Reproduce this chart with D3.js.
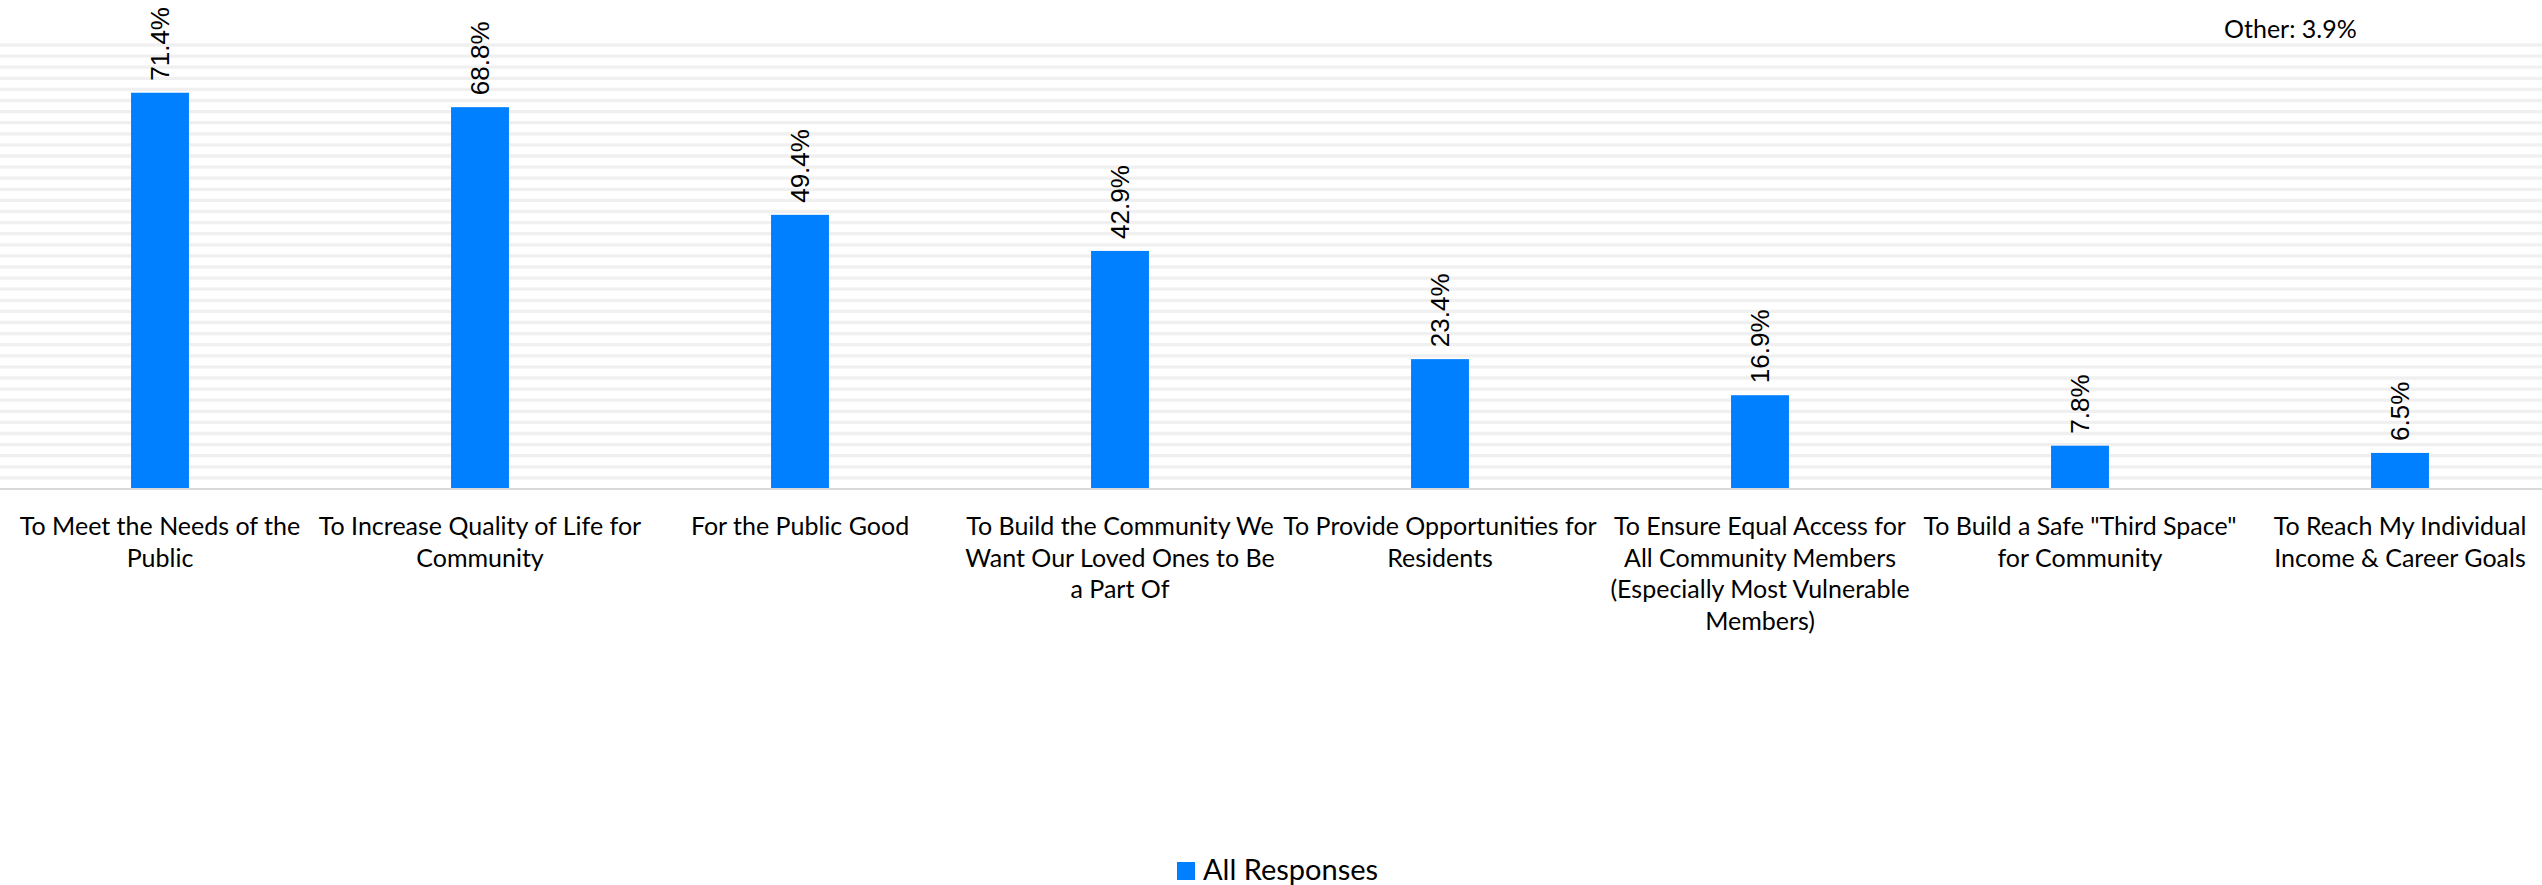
<!DOCTYPE html>
<html>
<head>
<meta charset="utf-8">
<script src="https://cdn.jsdelivr.net/npm/d3@7"></script>
<style>
  html, body { margin: 0; padding: 0; background: #ffffff; }
  svg { display: block; }
</style>
</head>
<body>
<svg id="chart" width="2542" height="885"></svg>
<script>
// ---- data ----
const categories = [
  "To Meet the Needs of the\nPublic",
  "To Increase Quality of Life for\nCommunity",
  "For the Public Good",
  "To Build the Community We\nWant Our Loved Ones to Be\na Part Of",
  "To Provide Opportunities for\nResidents",
  "To Ensure Equal Access for\nAll Community Members\n(Especially Most Vulnerable\nMembers)",
  "To Build a Safe \"Third Space\"\nfor Community",
  "To Reach My Individual\nIncome & Career Goals"
];
const values = [71.4, 68.8, 49.4, 42.9, 23.4, 16.9, 7.8, 6.5];
const seriesName = "All Responses";
const otherNote = "Other: 3.9%";
const gridTicks = d3.range(2, 81, 2);

// ---- layout ----
const W = 2542, H = 885;
const svg = d3.select("#chart");
const labelFont = "Lato, 'Open Sans', sans-serif";
const valueFont = "'Liberation Sans', Arial, sans-serif";
const barColor = "#0080ff";

const x = d3.scaleBand().domain(categories).range([0, 2560])
  .paddingInner(0.819).paddingOuter(0.4095);
const y = d3.scaleLinear().domain([0, 80]).range([489, 45]);

// gridlines
svg.append("g").selectAll("line").data(gridTicks).join("line")
  .attr("x1", 0).attr("x2", W)
  .attr("y1", d => y(d)).attr("y2", d => y(d))
  .attr("stroke", "#f0f0f0").attr("stroke-width", 3.3);

// bars
svg.append("g").selectAll("rect").data(values).join("rect")
  .attr("x", (d, i) => x(categories[i]))
  .attr("width", x.bandwidth())
  .attr("y", d => y(d))
  .attr("height", d => y(0) - y(d))
  .attr("fill", barColor);

// baseline axis
svg.append("line").attr("x1", 0).attr("x2", W)
  .attr("y1", y(0)).attr("y2", y(0))
  .attr("stroke", "#d9d9d9").attr("stroke-width", 2);

// value labels (rotated)
svg.append("g").selectAll("text").data(values).join("text")
  .attr("transform", (d, i) => `translate(${x(categories[i]) + x.bandwidth() / 2},${y(d) - 12}) rotate(-90)`)
  .attr("dy", "0.35em")
  .attr("text-anchor", "start")
  .attr("font-family", valueFont)
  .attr("font-size", 26)
  .attr("fill", "#000")
  .text(d => d.toFixed(1) + "%");

// category labels
const lab = svg.append("g").selectAll("text").data(categories).join("text")
  .attr("text-anchor", "middle")
  .attr("font-family", labelFont)
  .attr("font-size", 25)
  .attr("fill", "#000")
  .attr("transform", d => `translate(${x(d) + x.bandwidth() / 2},535)`);
lab.selectAll("tspan").data(d => d.split("\n")).join("tspan")
  .attr("x", 0).attr("y", (d, i) => i * 31.5)
  .text(d => d);

// other note
svg.append("text").attr("x", 2224).attr("y", 38)
  .attr("font-family", labelFont).attr("font-size", 25).attr("fill", "#000")
  .text(otherNote);

// legend
const lg = svg.append("g");
lg.append("rect").attr("x", 1177).attr("y", 862).attr("width", 18).attr("height", 18).attr("fill", barColor);
lg.append("text").attr("x", 1203).attr("y", 880)
  .attr("font-family", labelFont).attr("font-size", 29).attr("fill", "#000")
  .text(seriesName);
</script>
</body>
</html>
